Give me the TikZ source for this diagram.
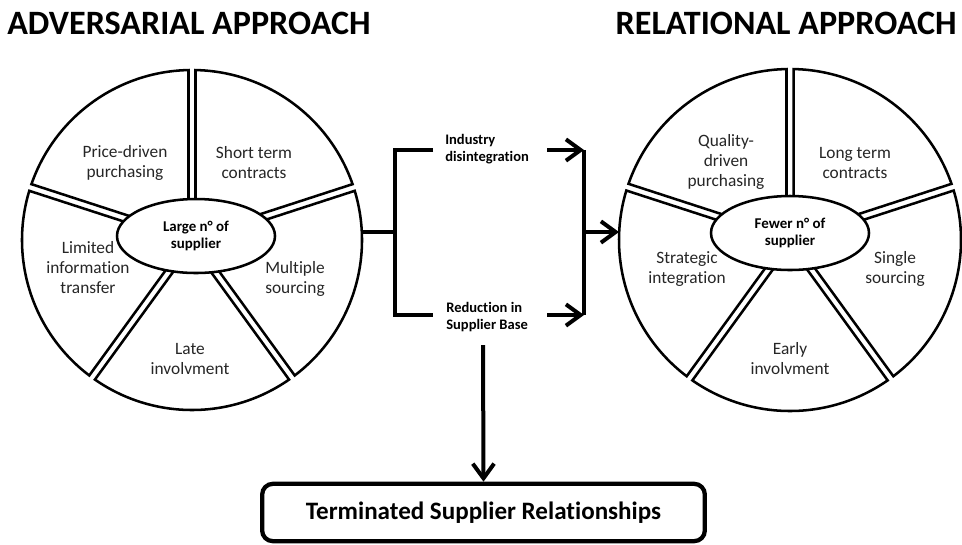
\documentclass[tikz,border=0pt]{standalone}
\usepackage{fontspec}
\setmainfont{Carlito}[Ligatures={NoCommon,TeX}]
\usetikzlibrary{arrows.meta,shapes.geometric,calc}
\begin{document}
\begin{tikzpicture}[x=0.75pt,y=0.75pt,
  pieslice/.style={draw=black,fill=white,line width=1.9pt,line join=miter},
  hub/.style={ellipse,draw=black,fill=white,line width=1.9pt,minimum width=118.5pt,minimum height=55.5pt,inner sep=0pt,align=center,font=\bfseries\fontsize{11.2}{12.75}\selectfont},
  seglabel/.style={align=center,font=\fontsize{13}{15}\selectfont,text=black!85,inner sep=0pt},
  midlabel/.style={align=left,font=\bfseries\fontsize{10.9}{12.75}\selectfont,inner sep=0pt,anchor=west},
  title/.style={font=\bfseries\fontsize{25.6}{30}\selectfont,inner sep=0pt},
  conn/.style={draw=black,line width=3pt,line join=miter},
  tip/.style={-{Straight Barb[length=11pt,width=16pt]}},
  termbox/.style={draw=black,line width=3.2pt,rounded corners=8pt,fill=white,minimum width=332pt,minimum height=43pt,inner sep=0pt,font=\bfseries\fontsize{18.8}{22}\selectfont}
]
\fill[white] (0,0) rectangle (962,-544);
\useasboundingbox (0,0) rectangle (962,-544);

% titles
\node[title,anchor=base west] (tleft) at (7,-34) {ADVERSARIAL APPROACH};
\node[title,anchor=base east] (tright) at (957,-34) {RELATIONAL APPROACH};

% circle centres
\coordinate (lc) at (192,-240);
\coordinate (rc) at (790,-240);

\pgfmathsetmacro\gapd{asin(3.5/170)}
\pgfmathsetmacro\apx{3.5/sin(36)}
\foreach \a in {18,90,162,234,306} {
  \pgfmathsetmacro\sa{\a+\gapd}
  \pgfmathsetmacro\ea{\a+72-\gapd}
  \pgfmathsetmacro\ba{\a+36}
  \draw[pieslice] ($(lc)+(\ba:\apx)$) -- ($(lc)+(\sa:170)$) arc[start angle=\sa, end angle=\ea, radius=170] -- cycle;
  \draw[pieslice] ($(rc)+(\ba:\apx)$) -- ($(rc)+(\sa:171)$) arc[start angle=\sa, end angle=\ea, radius=171] -- cycle;
}

\node[hub] (lhub) at (196,-236) {Large n° of\\supplier};
\node[hub] (rhub) at (790,-233) {Fewer n° of\\supplier};

% left labels
\node[seglabel] (l1) at (125,-163) {Price-driven\\purchasing};
\node[seglabel] (l2) at (254,-163) {Short term\\contracts};
\node[seglabel] (l3) at (88,-268) {Limited\\information\\transfer};
\node[seglabel] (l4) at (295,-279) {Multiple\\sourcing};
\node[seglabel] (l5) at (190,-359) {Late\\involvment};

% right labels
\node[seglabel] (r1) at (726,-162) {Quality-\\driven\\purchasing};
\node[seglabel] (r2) at (855,-163) {Long term\\contracts};
\node[seglabel] (r3) at (687,-269) {Strategic\\integration};
\node[seglabel] (r4) at (895,-269) {Single\\sourcing};
\node[seglabel] (r5) at (790,-359) {Early\\involvment};

% middle labels
\node[midlabel] (m1) at (445,-149) {Industry\\disintegration};
\node[midlabel] (m2) at (446,-317) {Reduction in\\Supplier Base};

% bracket coordinates
\coordinate (lcE) at (362,-232);
\coordinate (bMid) at (395,-232);
\coordinate (bTop) at (395,-150);
\coordinate (bBot) at (395,-315);
\coordinate (bTopEnd) at (433,-150);
\coordinate (bBotEnd) at (433,-315);
\coordinate (aTop) at (547,-150);
\coordinate (aBot) at (547,-315);
\coordinate (rTop) at (584,-150);
\coordinate (rBot) at (584,-315);
\coordinate (rMid) at (584,-232);
\coordinate (rcW) at (619,-232);
\coordinate (dStart) at (483,-345);

\draw[conn] (lcE) -- (bMid);
\draw[conn] (bTopEnd) -- (bTop) -- (bBot) -- (bBotEnd);
\draw[conn,tip] (aTop) -- (rTop);
\draw[conn,tip] (aBot) -- (rBot);
\draw[conn] (rTop) -- (rBot);
\draw[conn,tip] (rMid) -- (rcW);

\node[termbox] (term) at (483.5,-512.5) {Terminated Supplier Relationships};
\draw[conn,tip] (dStart) -- (term.north);
\end{tikzpicture}
\end{document}
